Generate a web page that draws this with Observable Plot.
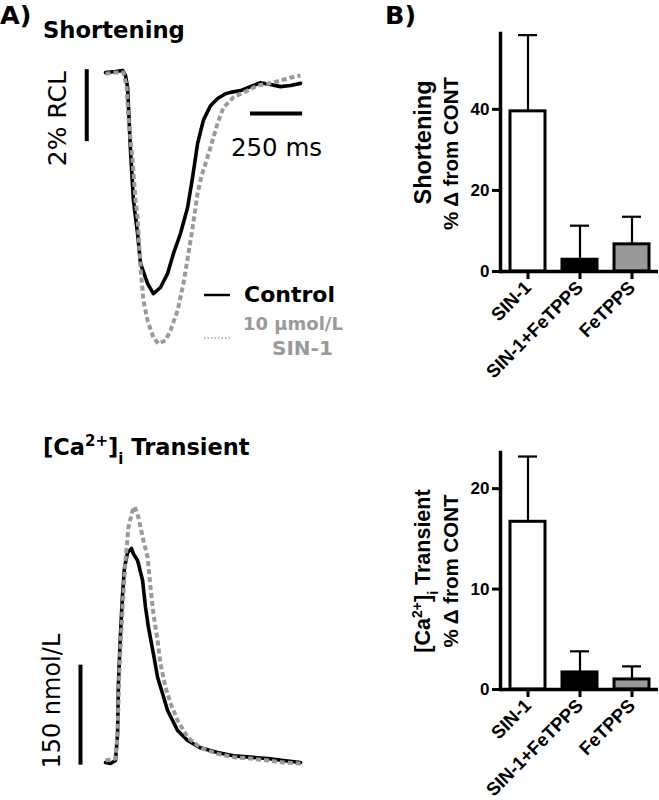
<!DOCTYPE html>
<html><head><meta charset="utf-8">
<script src="https://cdn.jsdelivr.net/npm/d3@7"></script>
<script src="https://cdn.jsdelivr.net/npm/@observablehq/plot@0.6"></script>
<style>
html,body{margin:0;padding:0;background:#fff;}
#fig{position:relative;width:659px;height:800px;background:#fff;overflow:hidden;}
#fig > *{position:absolute;}
</style></head><body><div id="fig"></div>
<script>
// ---------- DATA ----------
// Shortening traces: time (ms) vs change in cell length (% RCL)
const shortTimeCtrl = [0,48,82,96,106,120,134,154,168,202,230,264,298,326,360,394,418,442,470,504,538,576,600,648,696,744,792,840,888,936];
const shortCtrl     = [-0.03,0,0.03,-0.11,-0.44,-2.19,-3.58,-4.5,-5.33,-5.89,-6.17,-6.0,-5.61,-5.06,-4.5,-3.78,-2.94,-2.0,-1.35,-0.95,-0.75,-0.62,-0.58,-0.53,-0.42,-0.31,-0.36,-0.42,-0.39,-0.33];
const shortTimeSin  = [0,48,86,101,110,130,144,154,168,182,202,230,254,288,312,346,374,398,418,442,461,480,504,538,566,614,682,730,806,888,936];
const shortSin      = [-0.06,-0.03,-0.03,-0.39,-1.28,-2.47,-3.58,-4.06,-5.44,-6.36,-6.92,-7.39,-7.56,-7.47,-7.19,-6.64,-5.89,-5.06,-4.33,-3.39,-2.89,-2.56,-2.11,-1.44,-1.0,-0.72,-0.53,-0.39,-0.31,-0.17,-0.11];
// [Ca2+]i transients: time (ms) vs change in [Ca2+]i (nmol/L)
const caTimeCtrl = [0,24,48,58,62,72,82,91,106,125,134,154,178,192,206,230,250,274,298,322,346,394,456,538,614,696,778,854,936];
const caCtrl     = [0,-1.5,3,43,118,193,253,292,315,321,313,303,273,233,203,163,128,103,78,63,48,33,22,15,10,8,6,3,0];
const caTimeSin  = [0,48,58,67,82,96,110,130,139,154,168,182,202,216,230,250,264,288,312,346,394,456,538,614,696,778,854,936];
const caSin      = [3,6,43,143,233,303,353,378,384,373,353,333,308,263,223,183,148,113,89,63,38,22,13,8,6,3,0,-1.5];
// Scale bars
const shortScale = 2;      // % RCL
const timeScale = 250;     // ms
const caScale = 150;       // nmol/L
// Bar charts: % change from control
const categories = ["SIN-1", "SIN-1+FeTPPS", "FeTPPS"];
const barFills = ["#ffffff", "#000000", "#999999"];
const shortMean = [39.5, 2.9, 6.7];
const shortErr  = [18.8, 8.4, 6.8];
const caMean = [16.7, 1.7, 1.0];
const caErr  = [6.5, 2.1, 1.3];
const shortTicks = [0, 20, 40];
const caTicks = [0, 10, 20];
const shortYLabel = ["Shortening", "% Δ from CONT"];
const caYLabel = ["[Ca2+]i Transient", "% Δ from CONT"];

// ---------- BUILD ----------
const fig = document.getElementById("fig");
const gray = "#9a9a9a";
const zip = (ts, vs) => ts.map((t, i) => ({t, v: vs[i]}));
const msPerPx = 4.8;
const xScale = {domain: [0, 1000], range: [105, 105 + 1000 / msPerPx], axis: null};
const baseStyle = {background: "transparent", overflow: "visible", fontFamily: "DejaVu Sans"};
const dashed = {stroke: gray, strokeWidth: 4, strokeDasharray: "5,3", strokeLinecap: "butt"};

function place(el, left, top) { el.style.left = left + "px"; el.style.top = top + "px"; fig.appendChild(el); return el; }

// Shortening trace
const barT = -90, hBarV = -1.17, hBarT0 = 696;
place(Plot.plot({
  width: 380, height: 400, margin: 0,
  x: xScale,
  y: {domain: [0, -2], range: [71, 143], axis: null},
  style: baseStyle,
  marks: [
    Plot.line(zip(shortTimeCtrl, shortCtrl), {x: "t", y: "v", stroke: "#000", strokeWidth: 3.6}),
    Plot.line(zip(shortTimeSin, shortSin), {x: "t", y: "v", ...dashed}),
    Plot.ruleX([{t: barT, a: 0.05, b: 0.05 - shortScale}], {x: "t", y1: "a", y2: "b", strokeWidth: 4}),
    Plot.ruleY([{v: hBarV, a: hBarT0, b: hBarT0 + timeScale}], {y: "v", x1: "a", x2: "b", strokeWidth: 4}),
    Plot.text([`${shortScale}% RCL`], {x: barT, y: 0.05 - shortScale / 2, text: d => d, rotate: -90, dx: -29, dy: 13, fontSize: 25, fill: "#000"}),
    Plot.text([`${timeScale} ms`], {x: hBarT0 + timeScale / 2, y: hBarV, text: d => d, dy: 35, fontSize: 24.5, fill: "#000"})
  ]
}), 0, 0);

// Ca trace
const caBarT = -120;
place(Plot.plot({
  width: 380, height: 400, margin: 0,
  x: xScale,
  y: {domain: [0, 150], range: [362, 262], axis: null},
  style: baseStyle,
  marks: [
    Plot.line(zip(caTimeCtrl, caCtrl), {x: "t", y: "v", stroke: "#000", strokeWidth: 3.6}),
    Plot.line(zip(caTimeSin, caSin), {x: "t", y: "v", ...dashed}),
    Plot.ruleX([{t: caBarT, a: -4, b: -4 + caScale}], {x: "t", y1: "a", y2: "b", strokeWidth: 4}),
    Plot.text([`${caScale} nmol/L`], {x: caBarT, y: -4 + caScale / 2, text: d => d, rotate: -90, dx: -28, dy: -14, fontSize: 24, fill: "#000"})
  ]
}), 0, 400);

// Bar charts
function barChart(means, errs, ticks, ymax, mTop, mBottom, label, sizes, dys) {
  const data = categories.map((c, i) => ({cat: c, mean: means[i], err: errs[i]}));
  return Plot.plot({
    width: 279, height: 400, marginLeft: 120, marginRight: 1, marginTop: mTop, marginBottom: mBottom,
    x: {domain: categories, paddingInner: 0.333, paddingOuter: 0.171, axis: null},
    y: {domain: [0, ymax], axis: null},
    color: {domain: categories, range: barFills},
    style: {...baseStyle, fontFamily: "Liberation Sans, Arial, sans-serif", color: "#000"},
    marks: [
      Plot.barY(data, {x: "cat", y: "mean", fill: "cat", stroke: "#000", strokeWidth: 3}),
      Plot.ruleX(data, {x: "cat", y1: "mean", y2: d => d.mean + d.err, strokeWidth: 2.2}),
      Plot.tickY(data, {x: "cat", y: d => d.mean + d.err, strokeWidth: 2.2, insetLeft: 8, insetRight: 8}),
      Plot.frame({anchor: "left", strokeWidth: 3.5}),
      Plot.ruleY([0], {strokeWidth: 3.5}),
      Plot.axisY({ticks, tickSize: 8, tickPadding: 3, fontSize: 17, fontWeight: "bold", strokeWidth: 3, label: null}),
      Plot.axisX({tickRotate: -45, tickSize: 8, tickPadding: 5, fontSize: 18.5, fontWeight: "bold", strokeWidth: 3, label: null}),
      Plot.text([label[0]], {frameAnchor: "left", textAnchor: "middle", text: d => d, rotate: -90, dx: -77, dy: dys[0], fontSize: sizes[0], fontWeight: "bold", fill: "#000"}),
      Plot.text([label[1]], {frameAnchor: "left", textAnchor: "middle", text: d => d, rotate: -90, dx: -49, dy: dys[1], fontSize: sizes[1], fontWeight: "bold", fill: "#000"})
    ]
  });
}
place(barChart(shortMean, shortErr, shortTicks, 58.7, 33, 129, shortYLabel, [23.5, 20.5], [-10, 1]), 380, 0);
const caBars = place(barChart(caMean, caErr, caTicks, 23.6, 52, 111, caYLabel, [21.5, 20.5], [0, 0]), 380, 400);
// superscript / subscript for [Ca2+]i
d3.select(caBars).selectAll("text").each(function() {
  if (this.textContent === "[Ca2+]i Transient") {
    this.innerHTML = '[Ca<tspan baseline-shift="super" font-size="14px">2+</tspan>]<tspan baseline-shift="sub" font-size="14px">i</tspan> Transient';
  }
});

// Panel titles and legend
const ns = "http://www.w3.org/2000/svg";
const ov = document.createElementNS(ns, "svg");
ov.setAttribute("width", 659); ov.setAttribute("height", 800);
ov.style.pointerEvents = "none";
ov.innerHTML = `
<g font-family="DejaVu Sans" font-weight="bold">
  <text x="0" y="24" font-size="25.5">A)</text>
  <text x="385" y="24" font-size="25.5">B)</text>
  <text x="43" y="38" font-size="22.7">Shortening</text>
  <text x="43" y="455" font-size="22.5">[Ca<tspan baseline-shift="super" font-size="15px">2+</tspan>]<tspan baseline-shift="sub" font-size="15px">i</tspan> Transient</text>
  <line x1="204" x2="230" y1="295" y2="295" stroke="#000" stroke-width="2.5"/>
  <text x="244" y="302" font-size="22">Control</text>
  <line x1="204" x2="230" y1="338" y2="338" stroke="${gray}" stroke-width="1.5" stroke-dasharray="1.5,2"/>
  <text x="243" y="330" font-size="18" fill="${gray}">10 μmol/L</text>
  <text x="272" y="355" font-size="20" fill="${gray}">SIN-1</text>
</g>`;
place(ov, 0, 0);
</script></body></html>
